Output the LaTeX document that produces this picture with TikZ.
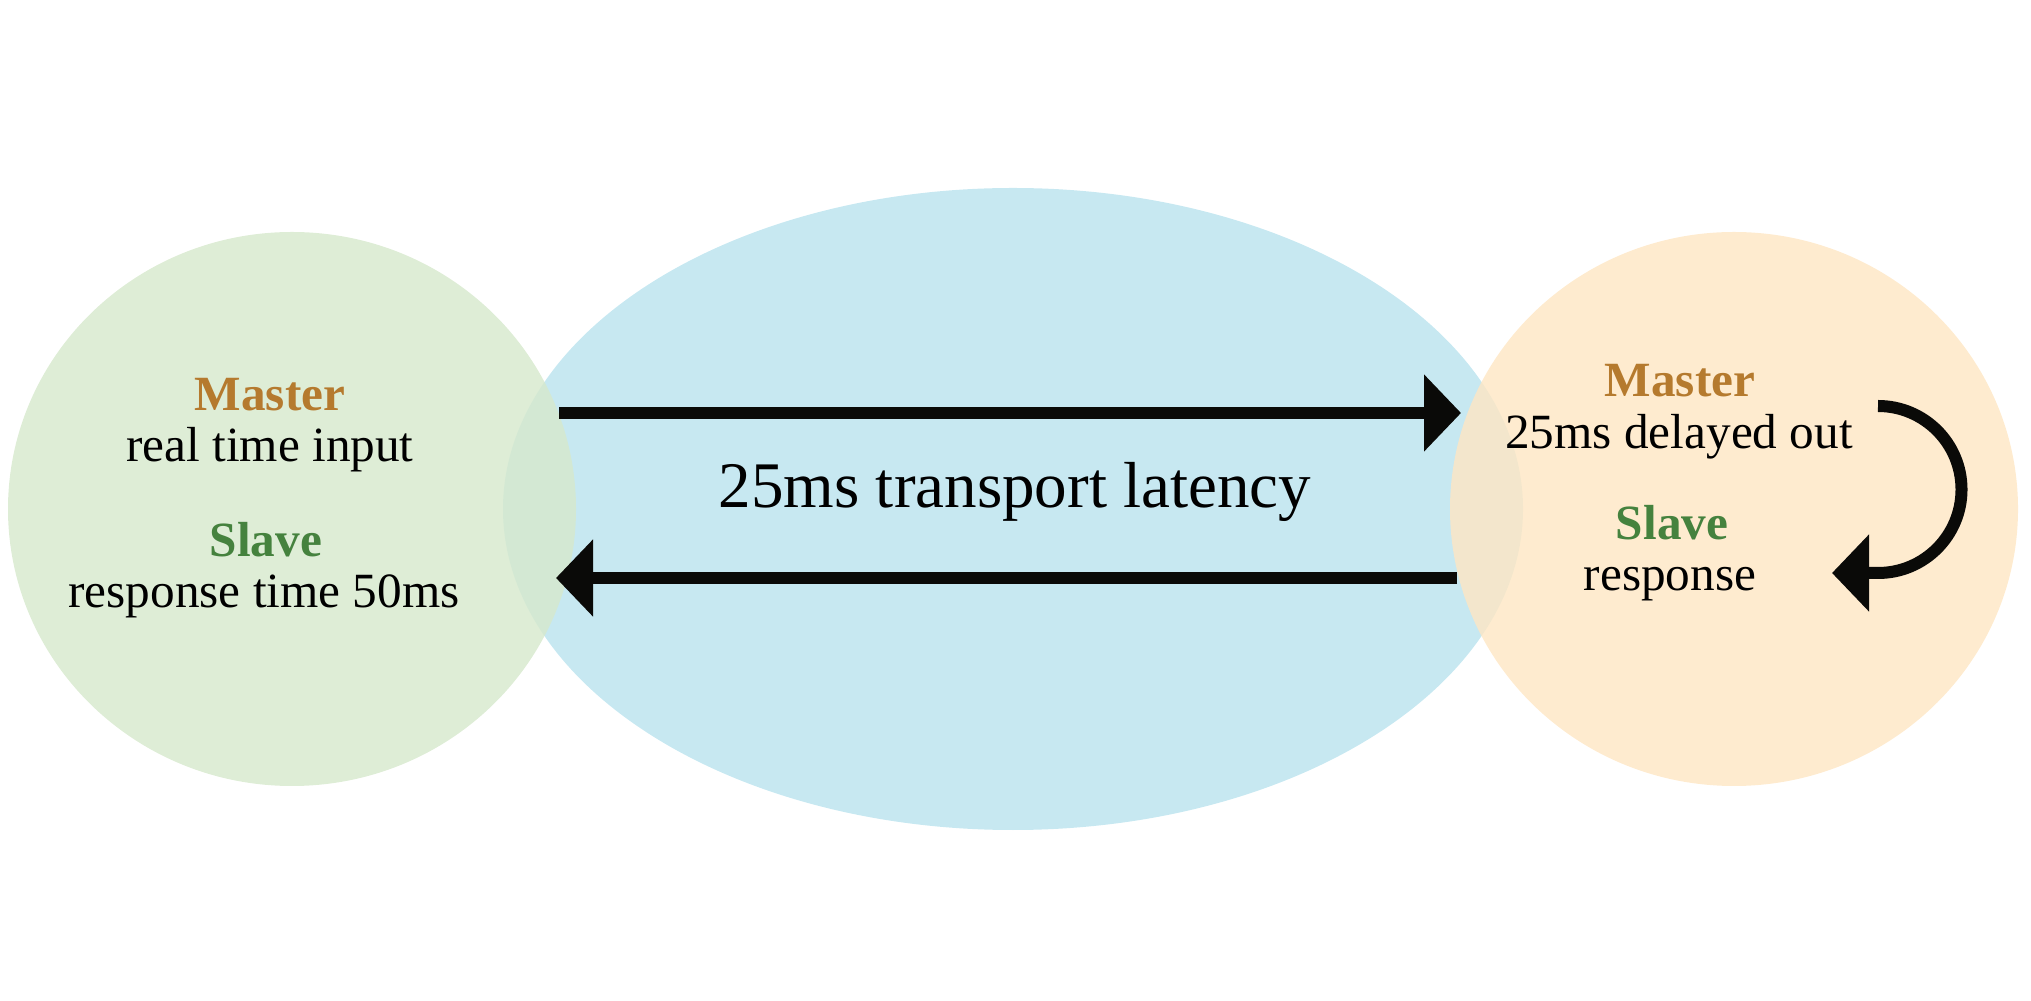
\documentclass[tikz,border=0pt]{standalone}
\usepackage{fontspec}
\setmainfont{Liberation Serif}
\usetikzlibrary{arrows.meta}
\definecolor{netblue}{HTML}{C7E8F1}
\definecolor{sidegreen}{HTML}{D6E8CC}
\definecolor{sideorange}{HTML}{FEE6C3}
\definecolor{mastercol}{HTML}{B57A2E}
\definecolor{slavecol}{HTML}{45823E}
\definecolor{arrowcol}{HTML}{0A0A08}
\tikzset{
  lbl/.style={anchor=base, inner sep=0pt, font=\fontsize{14}{17}\selectfont},
  masterlbl/.style={lbl, text=mastercol, font=\fontsize{14}{17}\selectfont\bfseries},
  slavelbl/.style={lbl, text=slavecol, font=\fontsize{14}{17}\selectfont\bfseries},
  fatarrow/.style={draw=arrowcol, line width=0.12cm,
    -{Triangle[length=0.37cm,width=0.75cm]}}
}
\begin{document}
\begin{tikzpicture}[x=0.01cm,y=0.01cm]
\useasboundingbox (0,0) rectangle (2031,1000);
% Network in the middle, both ends on top
\fill[netblue] (1013,491) ellipse [x radius=510, y radius=321];
\fill[sidegreen, opacity=0.8] (292,491) ellipse [x radius=284, y radius=277];
\fill[sideorange, opacity=0.8] (1734,491) ellipse [x radius=284, y radius=277];
% Left end
\node[masterlbl] (lmaster) at (270,589) {Master};
\node[lbl] (linput) at (270,538) {real time input};
\node[slavelbl] (lslave) at (266,443) {Slave};
\node[lbl] (lresp) at (264,392) {response time 50ms};
% Right end
\node[masterlbl] (rmaster) at (1680,603) {Master};
\node[lbl] (rout) at (1679,551) {25ms delayed out};
\node[slavelbl] (rslave) at (1672,460) {Slave};
\node[lbl] (rresp) at (1670,409) {response};
% Middle
\node[lbl, font=\fontsize{18.5}{22}\selectfont] (latency) at (1015,492) {25ms transport latency};
% Arrows
\coordinate (sendstart) at (559,587);
\coordinate (sendend) at (1461,587);
\coordinate (backstart) at (1457,422);
\coordinate (backend) at (556,422);
\coordinate (loopstart) at (1878,594);
\coordinate (loopend) at (1832,427);
\draw[fatarrow] (sendstart) -- (sendend);
\draw[fatarrow] (backstart) -- (backend);
\draw[fatarrow] (loopstart) arc [start angle=90, end angle=-90, radius=83.5] -- (loopend);
\end{tikzpicture}
\end{document}
